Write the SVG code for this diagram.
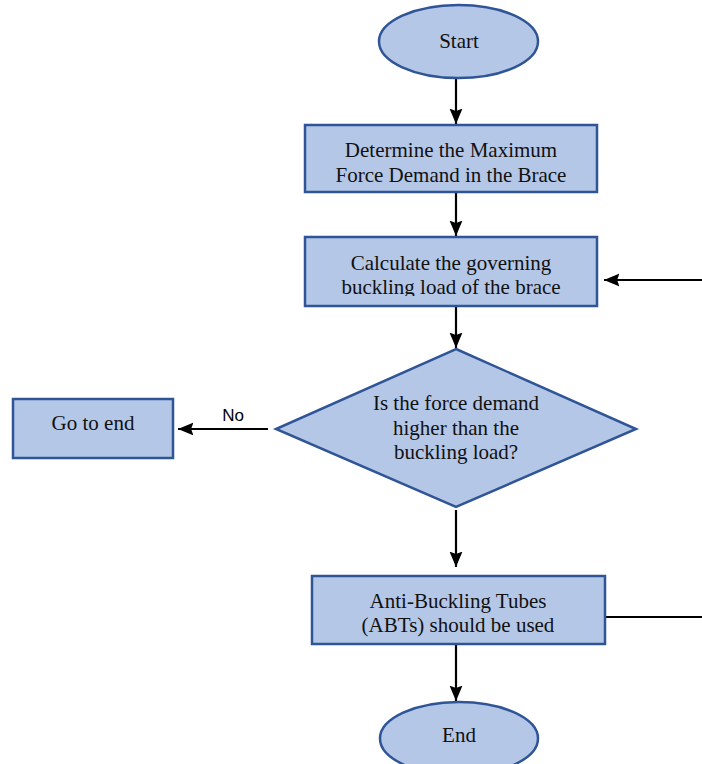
<svg xmlns="http://www.w3.org/2000/svg" width="702" height="764" viewBox="0 0 702 764">
<style>
.n{fill:#B4C7E7;stroke:#2F5597;stroke-width:2.5}
.t{font-family:"Liberation Serif","Times New Roman",serif;font-size:21px;fill:#111;text-anchor:middle}
.c{stroke:#000;stroke-width:2.2;fill:none}
.l{font-family:"Liberation Sans",Arial,sans-serif;font-size:17px;fill:#000;text-anchor:middle}
</style>
<defs>
<marker id="ah" viewBox="0 0 10 10" refX="10" refY="5" markerWidth="7" markerHeight="7" markerUnits="strokeWidth" orient="auto">
<path d="M0,0.8 L10,5 L0,9.2 L1.5,5 z" fill="#000"/>
</marker>
<clipPath id="clipB2"><rect x="300" y="230" width="300" height="66"/></clipPath>
</defs>
<rect width="702" height="764" fill="#fff"/>
<g id="connectors">
<line class="c" x1="456" y1="78" x2="456" y2="124" marker-end="url(#ah)"/>
<line class="c" x1="456" y1="192" x2="456" y2="236" marker-end="url(#ah)"/>
<line class="c" x1="702" y1="280" x2="604" y2="280" marker-end="url(#ah)"/>
<line class="c" x1="456" y1="306" x2="456" y2="348" marker-end="url(#ah)"/>
<line class="c" x1="268" y1="429" x2="178" y2="429" marker-end="url(#ah)"/>
<text class="l" x="233" y="421">No</text>
<line class="c" x1="456" y1="510" x2="456" y2="567" marker-end="url(#ah)"/>
<line class="c" x1="605" y1="617" x2="702" y2="617"/>
<line class="c" x1="456" y1="644" x2="456" y2="701" marker-end="url(#ah)"/>
</g>
<g id="start">
<ellipse class="n" cx="458.5" cy="41.5" rx="79.5" ry="36.5"/>
<text class="t" x="459" y="48">Start</text>
</g>
<g id="determine">
<rect class="n" x="305" y="125" width="292" height="67"/>
<text class="t" x="451" y="157">Determine the Maximum</text>
<text class="t" x="451" y="182">Force Demand in the Brace</text>
</g>
<g id="calculate">
<rect class="n" x="305" y="237" width="292" height="69"/>
<g clip-path="url(#clipB2)">
<text class="t" x="451" y="270">Calculate the governing</text>
<text class="t" x="451" y="294">buckling load of the brace</text>
</g>
</g>
<g id="decision">
<polygon class="n" points="456,349 636,429 456,507 276,429"/>
<text class="t" x="456" y="410">Is the force demand</text>
<text class="t" x="456" y="435">higher than the</text>
<text class="t" x="456" y="459">buckling load?</text>
</g>
<g id="gotoend">
<rect class="n" x="13" y="399" width="160" height="59"/>
<text class="t" x="93" y="430">Go to end</text>
</g>
<g id="abt">
<rect class="n" x="312" y="576" width="293" height="68"/>
<text class="t" x="458" y="608">Anti-Buckling Tubes</text>
<text class="t" x="458" y="632">(ABTs) should be used</text>
</g>
<g id="end">
<ellipse class="n" cx="459" cy="738.5" rx="79" ry="36.5"/>
<text class="t" x="459" y="742">End</text>
</g>
</svg>
